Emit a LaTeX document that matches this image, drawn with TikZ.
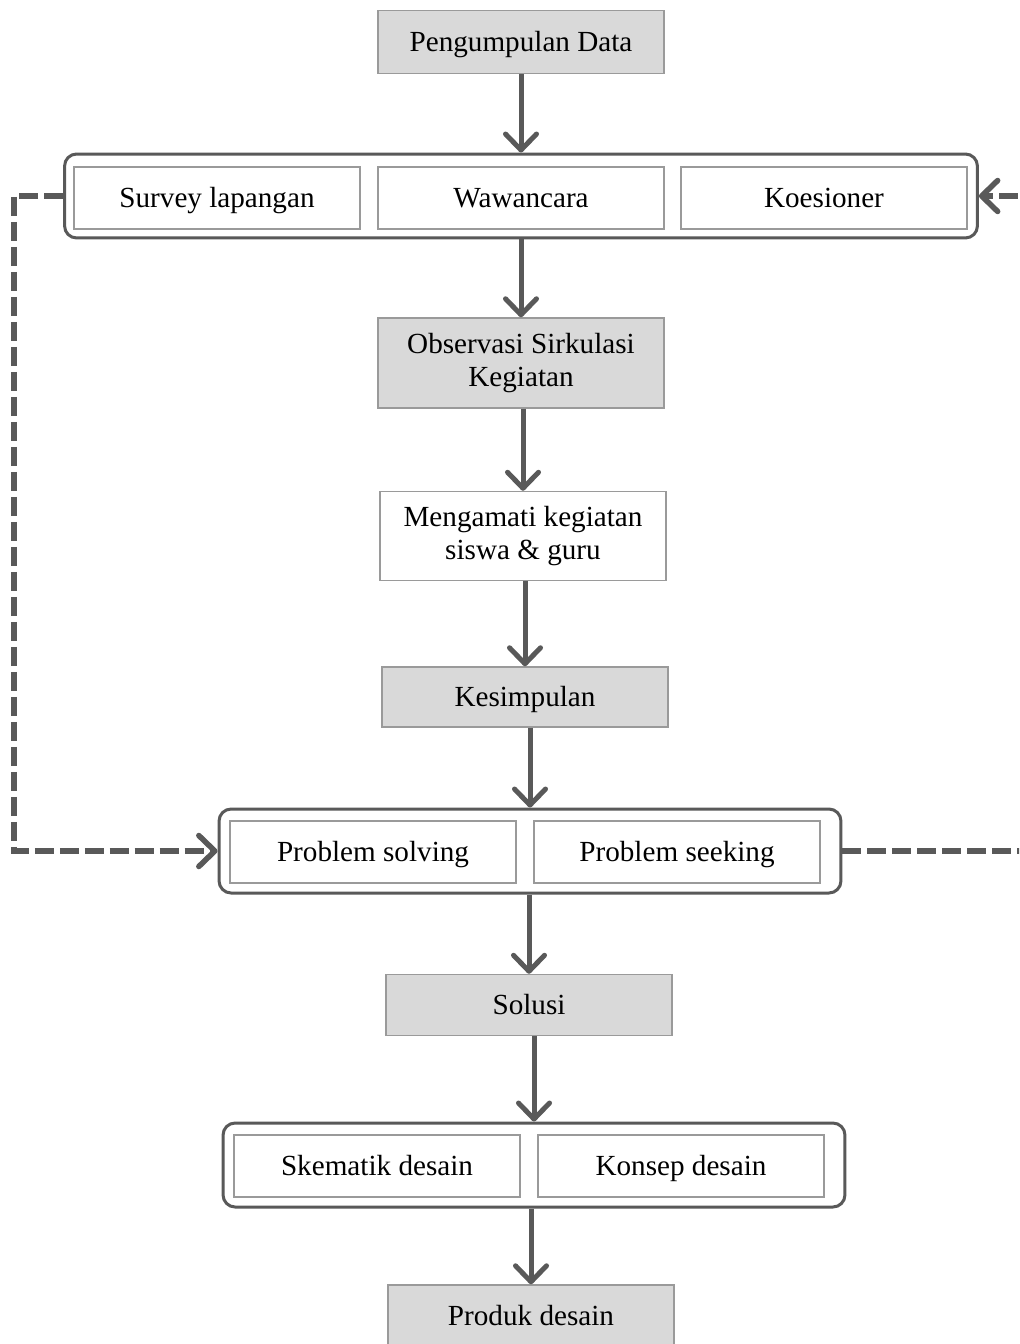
\documentclass[tikz,border=0pt]{standalone}
\usepackage{fontspec}
\setmainfont{Liberation Serif}
\usetikzlibrary{arrows.meta}
\definecolor{ln}{HTML}{595959}
\definecolor{bx}{HTML}{9A9A9A}
\definecolor{gf}{HTML}{D9D9D9}
\tikzset{
  base/.style={draw=bx, line width=0.03cm, minimum width=5.72cm, minimum height=1.24cm, inner sep=0pt, align=center, font=\fontsize{16.6}{18.3}\selectfont, text=black},
  one/.style={text height=15pt, text depth=4pt},
  graybox/.style={base, fill=gf},
  whitebox/.style={base, fill=white},
  grp/.style={draw=ln, line width=0.06cm, rounded corners=0.24cm, minimum height=1.68cm, inner sep=0pt},
  flow/.style={draw=ln, line width=0.1cm, -{Straight Barb[length=0.32cm, width=0.62cm, line cap=round, line join=round]}},
  fb/.style={draw=ln, line width=0.11cm, dash pattern=on 0.38cm off 0.12cm, line join=miter, -{Straight Barb[length=0.32cm, width=0.62cm, line cap=round, line join=round]}},
}
\begin{document}
\begin{tikzpicture}[x=0.02cm, y=-0.02cm]
\useasboundingbox (0,0) rectangle (1019,1344);
\clip (0,0) rectangle (1019,1344);
\fill[white] (0,0) rectangle (1019,1344);

\node[graybox, one, minimum height=1.26cm] (pd) at (521,42) {Pengumpulan Data};

\node[grp, minimum width=18.26cm] (g1) at (521,196) {};
\node[whitebox, one] (sl) at (217,198) {Survey lapangan};
\node[whitebox, one] (ww) at (521,198) {Wawancara};
\node[whitebox, one] (ko) at (824,198) {Koesioner};

\node[graybox, minimum height=1.8cm] (obs) at (521,363) {Observasi Sirkulasi\\Kegiatan};
\node[whitebox, minimum height=1.78cm] (men) at (523,536) {Mengamati kegiatan\\siswa \& guru};
\node[graybox, one, minimum height=1.2cm] (kes) at (525,697) {Kesimpulan};

\node[grp, minimum width=12.44cm] (g2) at (530,851) {};
\node[whitebox, one] (ps) at (373,852) {Problem solving};
\node[whitebox, one] (pk) at (677,852) {Problem seeking};

\node[graybox, one, minimum height=1.22cm] (sol) at (529,1005) {Solusi};

\node[grp, minimum width=12.44cm] (g3) at (534,1165) {};
\node[whitebox, one] (sk) at (377,1166) {Skematik desain};
\node[whitebox, one] (kd) at (681,1166) {Konsep desain};

\node[graybox, one, minimum height=1.24cm] (prod) at (531,1316) {Produk desain};

\draw[flow] (pd.south) -- (pd.south |- g1.north);
\draw[flow] (g1.south -| obs.north) -- (obs.north);
\draw[flow] (obs.south -| men.north) -- (men.north);
\draw[flow] (men.south -| kes.north) -- (kes.north);
\draw[flow] (kes.south -| g2.north) -- (g2.north);
\draw[flow] (g2.south -| sol.north) -- (sol.north);
\draw[flow] (sol.south -| g3.north) -- (g3.north);
\draw[flow] (g3.south -| prod.north) -- (prod.north);

\coordinate (lc) at (14,851);
\coordinate (rc) at (1040,196);
\draw[fb] (g1.west) -| (lc) -- (g2.west);
\draw[fb] (g2.east) -| (rc) -- (g1.east);
\end{tikzpicture}
\end{document}
